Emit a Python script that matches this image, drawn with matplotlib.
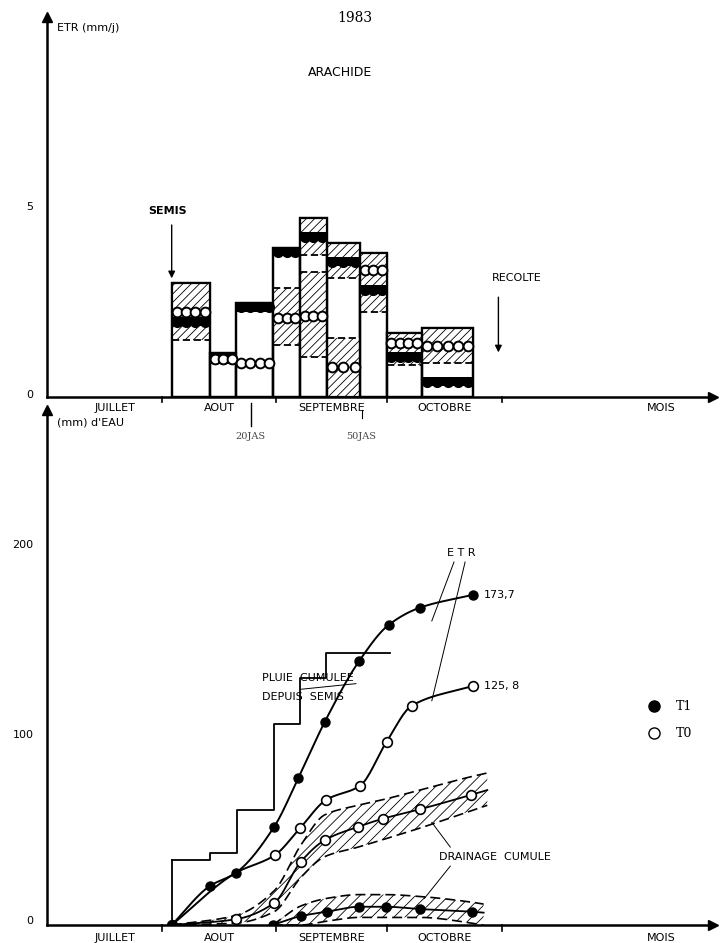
import numpy as np
import matplotlib
matplotlib.use("Agg")
import matplotlib.pyplot as plt
from matplotlib.patches import Rectangle

# ---- data (x in days from 1 July) ----
bar_x0 = [33.7, 44, 51.2, 61.2, 68.4, 75.6, 84.6, 91.8, 101.3]
bar_x1 = [44, 51.2, 61.2, 68.4, 75.6, 84.6, 91.8, 101.3, 115.2]
bar_top = [3.0, 1.16, 2.47, 3.92, 4.7, 4.04, 3.78, 1.68, 1.81]
bar_hatch = [[(1.5, 3.0)], [], [], [(1.37, 2.87)], [(3.73, 4.7), (1.06, 3.3)],
             [(3.13, 4.04), (0, 1.55)], [(2.25, 3.78)], [(0.84, 1.68)], [(0.89, 1.81)]]
etr_t1_bar = [1.98, 1.0, 2.37, 3.82, 4.22, 3.56, 2.82, 1.06, 0.4]
etr_t0_bar = [2.25, 1.0, 0.89, 2.08, 2.13, 0.8, 3.34, 1.42, 1.35]

rain_x = [33.7, 44, 51.4, 61.4, 68.4, 75.3, 92.7]
rain_y = [34, 37.7, 60.5, 106, 130, 143, 143]

etr1_x = [33.7, 44, 51, 61.4, 67.9, 75.1, 84.4, 92.4, 100.8, 115.0]
etr1_y = [0, 20.5, 27.4, 51.7, 77.2, 107, 139, 158, 167, 173.7]
etr0_x = [33.7, 51, 61.6, 68.4, 75.4, 84.6, 91.8, 98.6, 115.0]
etr0_y = [0, 27.4, 36.8, 51, 65.8, 73.3, 96.5, 115.4, 125.8]

dr0_x = [33.7, 51, 61.4, 68.6, 75.1, 84.1, 90.9, 100.8, 114.5, 119]
dr0_y = [0, 3, 11.6, 33.3, 44.7, 51.7, 56, 60.9, 68.4, 71]
dr0_up = [0, 5, 18, 42, 58, 63, 66, 71, 78, 80]
dr0_lo = [0, 1, 7, 25, 36, 41, 45, 51, 60, 63]

dr1_x = [61, 68.6, 75.6, 84.4, 91.6, 100.8, 114.8, 118]
dr1_y = [0, 4.7, 7, 9.6, 9.6, 8.4, 7, 6.5]
dr1_up = [0, 10, 14, 16, 16, 15, 12, 11]
dr1_lo = [0, 0, 2, 4, 4, 4, 1, 0]

months = ["JUILLET", "AOUT", "SEPTEMBRE", "OCTOBRE"]
month_start = [0, 31, 62, 92, 123]

def pchip(x, y, n=200):
    x = np.asarray(x, float); y = np.asarray(y, float)
    h = np.diff(x); d = np.diff(y) / h
    m = np.zeros_like(y)
    for k in range(1, len(x)-1):
        if d[k-1]*d[k] > 0:
            w1 = 2*h[k] + h[k-1]; w2 = h[k] + 2*h[k-1]
            m[k] = (w1 + w2) / (w1/d[k-1] + w2/d[k])
    m[0] = d[0]; m[-1] = d[-1]
    xs = np.linspace(x[0], x[-1], n)
    idx = np.clip(np.searchsorted(x, xs) - 1, 0, len(x)-2)
    t = (xs - x[idx]) / h[idx]
    h00 = 2*t**3 - 3*t**2 + 1; h10 = t**3 - 2*t**2 + t
    h01 = -2*t**3 + 3*t**2; h11 = t**3 - t**2
    ys = h00*y[idx] + h10*h[idx]*m[idx] + h01*y[idx+1] + h11*h[idx]*m[idx+1]
    return xs, ys

W, H = 721, 943
plt.rcParams['font.family'] = 'DejaVu Sans'
plt.rcParams['hatch.linewidth'] = 0.6
fig = plt.figure(figsize=(W/100, H/100), dpi=100)

def mkax(y0px, y1px, ymax):
    ax = fig.add_axes([47/W, (H-y0px)/H, 666/W, (y0px-y1px)/H])
    ax.set_facecolor('none')
    ax.set_xlim(0, 180); ax.set_ylim(0, ymax)
    for s in ['top', 'right']:
        ax.spines[s].set_visible(False)
    ax.spines['left'].set_linewidth(1.8); ax.spines['bottom'].set_linewidth(1.8)
    ax.set_xticks([]); ax.set_yticks([])
    ax.plot(1, 0, ">k", transform=ax.transAxes, clip_on=False, ms=7)
    ax.plot(0, 1, "^k", transform=ax.transAxes, clip_on=False, ms=7)
    for m in month_start[1:]:
        ax.plot([m, m], [0, -0.012*ymax], 'k', lw=1.2, clip_on=False)
    return ax

def month_labels(ax, y):
    for j, m in enumerate(months):
        xc = (month_start[j]+month_start[j+1])/2 + (3 if j == 0 else 0)
        ax.text(xc, y, m, fontsize=8, ha='center', va='center')
    ax.text(166, y, "MOIS", fontsize=8, ha='center', va='center')

# ---------- top ----------
ax = mkax(397, 17, 10)
for i in range(9):
    x0, x1 = bar_x0[i], bar_x1[i]
    ax.add_patch(Rectangle((x0, 0), x1-x0, bar_top[i], fc='white', ec='black', lw=1.6, zorder=2))
    for lo, hi in bar_hatch[i]:
        ax.add_patch(Rectangle((x0, lo), x1-x0, hi-lo, fc='white', ec='black', hatch='////',
                               lw=0, zorder=3))
        ax.plot([x0, x1], [lo, lo], 'k--', lw=1.3, zorder=4, dashes=(4, 2))
        ax.plot([x0, x1], [hi, hi], 'k--', lw=1.3, zorder=4, dashes=(4, 2))
    ax.add_patch(Rectangle((x0, 0), x1-x0, bar_top[i], fc='none', ec='black', lw=1.6, zorder=5))
    n = max(2, int(round((x1-x0)/2.6)))
    xs = np.linspace(x0+1.3, x1-1.3, n)
    ax.add_patch(Rectangle((x0, etr_t1_bar[i]-0.12), x1-x0, 0.24, fc='black', lw=0, zorder=6))
    ax.plot(xs, [etr_t1_bar[i]]*n, 'o', color='black', ms=7, zorder=7)
    ax.plot(xs, [etr_t0_bar[i]]*n, 'o', mfc='white', mec='black', mew=1.4, ms=7, zorder=8)
fig.text(355/W, 1-18/H, "1983", family='DejaVu Serif', fontsize=10, ha='center', va='center')
ax.text(0.015, 0.97, "ETR (mm/j)", transform=ax.transAxes, fontsize=8, va='center')
ax.text(0.44, 0.855, "ARACHIDE", transform=ax.transAxes, fontsize=9, va='center', ha='center')
ax.text(-0.02, 5, "5", fontsize=8, ha='right', va='center', transform=ax.get_yaxis_transform())
ax.text(-0.02, 0.05, "0", fontsize=8, ha='right', va='center', transform=ax.get_yaxis_transform())
ax.annotate("", xy=(33.7, 3.05), xytext=(33.7, 4.6), arrowprops=dict(arrowstyle='-|>', color='k', lw=1))
ax.text(32.5, 4.9, "SEMIS", fontsize=8, ha='center', va='center', weight='bold')
ax.annotate("", xy=(122, 1.1), xytext=(122, 2.7), arrowprops=dict(arrowstyle='-|>', color='k', lw=1))
ax.text(127, 3.13, "RECOLTE", fontsize=8, ha='center', va='center')
month_labels(ax, -0.3)
ax.plot([55, 55], [-0.15, -0.75], 'k', lw=1, clip_on=False)
ax.text(55, -1.05, "20JAS", fontsize=7, ha='center', va='center', family='DejaVu Serif', color='#444')
ax.plot([85, 85], [-0.35, -0.55], 'k', lw=0.8, clip_on=False)
ax.text(85, -1.05, "50JAS", fontsize=7, ha='center', va='center', family='DejaVu Serif', color='#444')

# ---------- bottom ----------
bx = mkax(925, 410, 271)
bx.step(rain_x, rain_y, where='post', color='k', lw=1.3)
bx.plot([33.7, 33.7], [0, rain_y[0]], 'k', lw=1.3)

for xx, up, lo, mid, filled in [(dr0_x, dr0_up, dr0_lo, dr0_y, False), (dr1_x, dr1_up, dr1_lo, dr1_y, True)]:
    xs, yu = pchip(xx, up); _, yl = pchip(xx, lo); _, ym = pchip(xx, mid)
    bx.fill_between(xs, yl, yu, facecolor='white', edgecolor='black', hatch='///', lw=0, zorder=2)
    bx.plot(xs, yu, 'k--', lw=1.2, dashes=(6, 3), zorder=3)
    bx.plot(xs, yl, 'k--', lw=1.2, dashes=(6, 3), zorder=3)
    bx.plot(xs, ym, 'k-', lw=1.3, zorder=4)
    npts = len(xx) - 1
    if filled:
        bx.plot(xx[:npts], mid[:npts], 'o', color='k', ms=6.5, zorder=5)
    else:
        bx.plot(xx[:npts], mid[:npts], 'o', mfc='white', mec='k', mew=1.2, ms=7, zorder=5)

xs, ys = pchip(etr1_x, etr1_y); bx.plot(xs, ys, 'k-', lw=1.4, zorder=4)
bx.plot(etr1_x, etr1_y, 'o', color='k', ms=6.5, zorder=6)
xs, ys = pchip(etr0_x, etr0_y); bx.plot(xs, ys, 'k-', lw=1.4, zorder=4)
bx.plot(etr0_x[2:], etr0_y[2:], 'o', mfc='white', mec='k', mew=1.2, ms=7, zorder=6)

bx.text(-0.02, 200, "200", fontsize=8, ha='right', va='center', transform=bx.get_yaxis_transform())
bx.text(-0.02, 100, "100", fontsize=8, ha='right', va='center', transform=bx.get_yaxis_transform())
bx.text(-0.02, 2, "0", fontsize=8, ha='right', va='center', transform=bx.get_yaxis_transform())
bx.text(0.015, 0.975, "(mm) d'EAU", transform=bx.transAxes, fontsize=8, va='center')
month_labels(bx, -7)
bx.text(118, 173.7, "173,7", fontsize=8, va='center')
bx.text(118, 125.8, "125, 8", fontsize=8, va='center')
bx.text(112, 196, "E T R", fontsize=8, ha='center', va='center')
bx.plot([110, 104], [191, 160], 'k', lw=0.7)
bx.plot([113, 104], [191, 118], 'k', lw=0.7)
bx.text(58, 130, "PLUIE  CUMULEE", fontsize=8, va='center')
bx.text(58, 120, "DEPUIS  SEMIS", fontsize=8, va='center')
bx.plot([83.5, 68.4], [127, 124], 'k', lw=0.7)
bx.text(106, 36, "DRAINAGE  CUMULE", fontsize=8, va='center')
bx.plot([109, 104], [41, 54], 'k', lw=0.7)
bx.plot([109, 102], [31, 14], 'k', lw=0.7)
bx.plot([164], [115], 'o', color='k', ms=8)
bx.text(170, 115, "T1", fontsize=9, va='center', family='DejaVu Serif')
bx.plot([164], [101], 'o', mfc='white', mec='k', ms=8)
bx.text(170, 101, "T0", fontsize=9, va='center', family='DejaVu Serif')

fig.savefig("out.png", dpi=100)
